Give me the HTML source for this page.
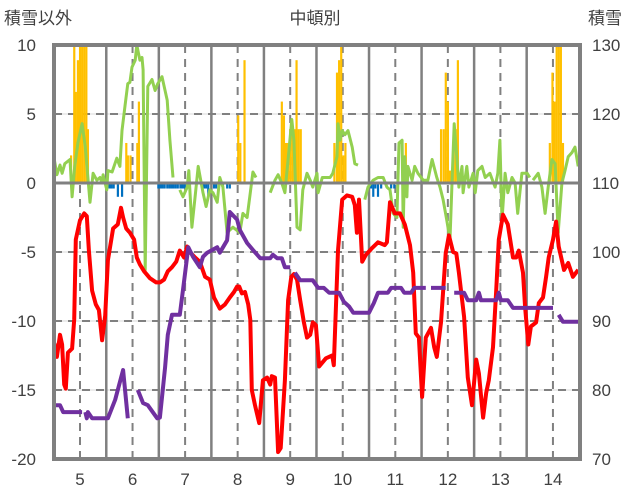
<!DOCTYPE html>
<html><head><meta charset="utf-8">
<style>
html,body{margin:0;padding:0;background:#fff;}
svg{display:block;font-family:"Liberation Sans","Noto Sans CJK JP",sans-serif;}
</style></head>
<body>
<svg id="chart" width="636" height="501" viewBox="0 0 636 501" xmlns="http://www.w3.org/2000/svg">
<text x="315" y="24" font-size="17" fill="#404040" text-anchor="middle">中頓別</text>
<text x="4" y="24" font-size="17" fill="#404040">積雪以外</text>
<text x="588" y="24" font-size="17" fill="#404040">積雪</text>
<g id="grid"></g>
<g id="bars"></g>
<g id="lines"></g>
<g id="axes"></g>
</svg>
<script>
const xTicks = [5,6,7,8,9,10,11,12,13,14];
const leftTicks = [10,5,0,-5,-10,-15,-20];
const rightTicks = [130,120,110,100,90,80,70];

const orangeDays = [4.81,4.87,4.90,4.94,4.98,5.02,5.06,5.10,5.13,5.86,5.89,5.94,6.07,6.10,7.99,8.03,8.11,8.82,8.86,8.90,8.94,8.98,9.02,9.06,9.10,9.14,9.18,9.82,9.87,9.91,9.95,9.99,10.03,11.18,11.85,11.90,11.94,11.98,12.02,12.06,12.09,12.13,12.17,13.92,13.97,14.01,14.05,14.09,14.13,14.17];
const orangeVals = [2.0,10,6.6,8.9,10,10,10,10,3.9,2.9,2.0,2.0,2.9,5.9,4.9,2.9,8.9,5.9,4.9,2.9,2.9,3.9,3.9,3.9,8.9,3.9,3.9,2.9,8.0,8.9,10,2.0,2.9,2.9,3.9,3.9,8.0,5.9,0.9,0.9,3.9,3.9,8.9,2.9,8.0,5.9,10,10,10,2.9];
const blueDays = [5.54,5.58,5.62,5.70,5.78,6.47,6.51,6.55,6.59,6.64,6.68,6.72,6.76,6.80,6.84,6.89,6.93,6.97,7.01,7.34,7.38,7.42,7.53,7.57,7.70,7.78,7.83,10.52,10.56,10.60,10.65,10.71,10.90,10.96];
const blueVals = [-0.4,-0.4,-0.4,-1.0,-1.0,-0.4,-0.4,-0.4,-0.4,-0.4,-0.4,-0.4,-0.4,-0.4,-0.4,-0.4,-0.4,-0.4,-0.4,-0.4,-0.4,-1.0,-0.4,-0.4,-0.4,-0.4,-0.4,-0.4,-1.0,-0.4,-1.0,-0.4,-0.4,-0.4];

const greenDays = [4.51,4.56,4.62,4.66,4.71,4.81,4.85,4.90,4.96,5.04,5.10,5.19,5.25,5.32,5.38,5.42,5.44,5.51,5.53,5.61,5.70,5.76,5.80,5.86,5.91,5.95,5.99,6.05,6.08,6.14,6.18,6.20,6.24,6.29,6.37,6.43,6.48,6.56,6.66,6.71,6.77,6.80,
6.90,6.96,7.04,7.07,7.13,7.19,7.25,7.34,7.40,7.47,7.53,7.61,7.66,7.72,7.80,7.91,8.04,8.10,8.18,8.24,8.29,8.35,8.40,
8.62,8.71,8.77,8.84,8.90,8.96,9.03,9.07,9.13,9.19,9.24,9.32,9.38,9.43,9.51,9.53,9.61,9.70,9.76,9.81,9.89,9.91,9.95,9.99,10.04,10.10,10.18,10.23,10.29,10.33,
10.42,10.48,10.58,10.67,10.77,10.84,10.90,10.96,11.03,11.07,11.13,11.15,11.18,11.22,11.24,11.32,11.37,11.43,11.53,11.62,11.70,11.79,11.85,11.91,11.98,12.04,12.08,12.12,12.17,12.21,12.27,12.29,12.36,12.40,12.48,12.52,12.57,12.65,12.71,12.80,12.90,12.95,12.99,13.03,13.09,13.14,13.22,13.28,13.33,13.41,13.51,13.56,13.59,
13.62,13.72,13.79,13.85,13.91,13.98,14.04,14.10,14.17,14.23,14.29,14.36,14.42,14.48];
const greenVals = [1.7,0.6,1.3,0.7,1.4,1.7,-1.0,1.2,2.9,4.3,2.6,-1.4,0.7,0.2,0.4,0,0.6,-0.5,0.9,0.8,1.8,1.2,3.8,5.7,7.2,7.3,8.4,8.9,10.0,8.9,9.1,8.2,-6.3,7.0,7.5,6.7,7.2,7.7,6.0,3.1,0.4,null,
-0.5,-1.0,-0.3,0.9,-3.2,-1.0,1.2,-0.7,-1.7,-0.5,-0.7,-1.4,0.4,-0.3,-3.6,-3.2,-3.6,-2.2,-2.5,-0.7,0.8,0.4,null,
-0.7,0.2,0.6,0,-0.7,1.7,4.6,3.1,-3.2,-3.4,-0.5,0.7,0.2,-0.3,0.7,-0.7,0.4,0.4,0.4,0.7,1.9,4.3,3.1,3.8,3.5,3.8,2.6,1.4,1.3,null,
-1.2,-0.3,0.2,0.4,0.4,-0.3,-0.5,-2.2,-2.5,2.9,3.1,-3.2,1.9,-1.0,1.2,0.2,1.2,0.7,0.2,0.2,1.7,0.4,-0.3,-1.2,-2.7,-4.1,0.2,4.3,1.9,-0.3,1.2,-0.7,1.2,-0.3,0.7,-0.7,0.9,1.2,0.4,0.7,-0.3,0.7,3.1,-2.7,0.7,-0.7,0.4,0,-2.2,0.7,0.7,0.4,null,
0.2,0.7,-0.3,-2.2,-0.3,1.7,1.4,-3.6,0,0.9,1.9,2.2,2.6,1.2];

const redDays = [4.51,4.56,4.62,4.66,4.70,4.73,4.77,4.85,4.89,4.92,5.00,5.08,5.13,5.17,5.23,5.30,5.36,5.42,5.48,5.53,5.63,5.72,5.78,5.82,5.88,5.95,6.03,6.08,6.14,6.22,6.33,6.45,6.52,6.60,6.67,6.75,6.83,6.90,6.98,7.04,7.09,7.19,7.28,7.38,7.47,7.55,7.66,7.76,7.85,7.93,7.99,8.03,8.08,8.14,8.20,8.24,8.27,8.33,8.41,8.48,8.56,8.62,8.65,8.71,8.77,8.82,8.90,8.96,9.02,9.07,9.13,9.19,9.26,9.32,9.38,9.43,9.49,9.55,9.68,9.80,9.83,9.91,9.99,10.08,10.18,10.23,10.27,10.31,10.37,10.44,10.56,10.67,10.80,10.84,10.90,10.99,11.09,11.18,11.28,11.34,11.39,11.45,11.51,11.58,11.68,11.74,11.79,11.87,11.96,12.02,12.10,12.16,12.21,12.31,12.38,12.46,12.54,12.59,12.67,12.73,12.78,12.86,12.92,12.97,13.05,13.14,13.24,13.30,13.35,13.43,13.47,13.53,13.58,13.68,13.73,13.81,13.87,13.92,14.00,14.06,14.11,14.21,14.29,14.38,14.48];
const redVals = [-11.6,-12.6,-11.0,-11.7,-14.6,-14.9,-12.3,-12.0,-9.9,-4.1,-2.7,-2.2,-2.4,-4.9,-7.8,-8.8,-9.2,-11.4,-9.6,-5.6,-3.3,-3.0,-1.8,-2.5,-3.3,-3.6,-4.1,-5.4,-5.9,-6.4,-6.9,-7.2,-7.2,-7.0,-6.4,-6.1,-5.7,-4.9,-5.4,-4.6,-5.0,-5.4,-5.7,-6.8,-7.0,-8.3,-9.1,-8.8,-8.3,-7.9,-7.5,-7.5,-8.0,-7.9,-8.8,-9.9,-15.0,-16.1,-17.4,-14.3,-14.1,-14.6,-14.0,-14.1,-19.5,-19.2,-14.3,-8.5,-6.8,-6.6,-7.0,-8.5,-10.1,-11.2,-11.0,-10.1,-10.3,-13.3,-12.7,-12.5,-13.2,-4.9,-1.2,-0.9,-1.0,-1.6,-3.6,-1.2,-5.7,-5.2,-4.7,-4.3,-4.5,-4.3,-1.4,-2.2,-2.2,-3.0,-4.5,-6.5,-10.9,-11.2,-15.5,-11.2,-10.5,-11.9,-12.6,-10.1,-5.1,-3.8,-5.0,-5.1,-6.5,-9.7,-14.1,-16.1,-12.8,-13.8,-17.0,-15.2,-14.3,-11.9,-7.8,-4.1,-2.3,-3.0,-5.4,-5.4,-4.9,-6.5,-9.0,-11.7,-10.4,-10.1,-8.7,-8.3,-6.8,-5.4,-4.1,-2.8,-4.6,-6.3,-5.8,-6.8,-6.3];

const purpleDays = [4.51,4.62,4.68,5.04,5.07,5.10,5.13,5.15,5.23,5.53,5.67,5.82,5.91,5.96,6.10,6.20,6.29,6.47,6.52,6.62,6.67,6.75,6.90,6.96,7.06,7.15,7.28,7.34,7.42,7.61,7.66,7.80,7.85,7.99,8.04,8.18,8.29,8.43,8.62,8.67,8.75,8.84,8.90,9.00,9.04,9.09,9.19,9.43,9.53,9.64,9.74,9.93,10.02,10.12,10.20,10.50,10.59,10.67,10.86,10.92,11.11,11.17,11.30,11.36,11.58,11.63,11.68,11.96,12.04,12.12,12.31,12.38,12.54,12.59,12.63,12.92,12.97,13.01,13.14,13.24,14.00,14.05,14.11,14.19,14.48];
const purpleVals = [77.8,77.8,76.8,76.8,null,76.8,75.9,76.8,75.9,75.9,78.6,82.9,75.9,null,80.0,78.1,77.8,75.9,76.0,83.3,88.0,90.9,90.9,94.5,100.7,99.3,97.8,99.3,99.9,100.7,99.9,101.7,105.8,104.7,103.2,101.3,100.3,99.1,99.1,99.6,99.1,99.1,97.8,97.8,null,97.0,95.9,95.9,94.8,94.8,94.1,94.1,92.8,92.1,91.2,91.2,92.6,94.1,94.1,94.8,94.8,94.1,94.1,94.8,94.8,null,94.8,94.8,null,94.1,94.1,93.0,93.0,94.1,93.0,93.0,94.1,93.0,93.0,91.9,91.9,null,90.9,89.9,89.9];

const NS = 'http://www.w3.org/2000/svg';
const PL = 54, PR = 580, PT = 45, PB = 459;
function xS(d){ return 80 + (d - 5) * 52.55; }
function yL(v){ return 183 - v * 13.8; }
function yR(v){ return 183 - (v - 110) * 6.9; }
function mk(tag, attrs, parent){
  const e = document.createElementNS(NS, tag);
  for (const k in attrs) e.setAttribute(k, attrs[k]);
  parent.appendChild(e);
  return e;
}
const grid = document.getElementById('grid');
const bars = document.getElementById('bars');
const lines = document.getElementById('lines');
const axes = document.getElementById('axes');

// horizontal grid
leftTicks.forEach(v => {
  if (v === 10 || v === -20 || v === 0) return;
  const y = yL(v);
  const g1 = mk('line', {x1:PL, x2:PR, y1:y, y2:y, stroke:'#d9d9d9', 'stroke-width':1}, grid);
  
  
  const g2 = mk('line', {x1:PL, x2:PR, y1:y, y2:y, stroke:'#808080', 'stroke-width':2, 'stroke-dasharray':'8,6'}, grid);
  
  
});
// vertical grid
xTicks.forEach(d => {
  const x = xS(d);
  const g = mk('line', {x1:x, x2:x, y1:PT, y2:PB, stroke:'#808080', 'stroke-width':2, 'stroke-dasharray':'8,6'}, grid);
  
  
  if (d < 14) {
    const xs = xS(d + 0.5);
    const s = mk('line', {x1:xs, x2:xs, y1:PT, y2:PB, stroke:'#808080', 'stroke-width':2.5}, grid);
    
    
  }
  const t = mk('text', {x:x, y:485, 'font-size':17, fill:'#404040', 'text-anchor':'middle'}, axes);
  t.textContent = d;
  
  
});
// bars
const bw = 52.55 / 24;
orangeDays.forEach((d, i) => {
  const v = orangeVals[i];
  const r = mk('rect', {x:xS(d), y:yL(v), width:bw, height:yL(0) - yL(v), fill:'#FFC000'}, bars);
  
  
});
blueDays.forEach((d, i) => {
  const v = blueVals[i];
  const r = mk('rect', {x:xS(d), y:yL(0), width:bw, height:yL(v) - yL(0), fill:'#0070C0'}, bars);
  
  
});
// zero line
const z = mk('line', {x1:PL, x2:PR, y1:yL(0), y2:yL(0), stroke:'#808080', 'stroke-width':3}, axes);



function pathFrom(days, vals, ys){
  let d = '', pen = false;
  days.forEach((t, i) => {
    const v = vals[i];
    if (v === null || v === undefined) { pen = false; return; }
    d += (pen ? 'L' : 'M') + xS(t).toFixed(1) + ',' + ys(v).toFixed(1);
    pen = true;
  });
  return d;
}
const gp = mk('path', {d:pathFrom(greenDays, greenVals, yL), fill:'none', stroke:'#92D050', 'stroke-width':3, 'stroke-linejoin':'round'}, lines);


const rp = mk('path', {d:pathFrom(redDays, redVals, yL), fill:'none', stroke:'#FF0000', 'stroke-width':4, 'stroke-linejoin':'round'}, lines);


const pp = mk('path', {d:pathFrom(purpleDays, purpleVals, yR), fill:'none', stroke:'#7030A0', 'stroke-width':4, 'stroke-linejoin':'round'}, lines);



// border
const b = mk('rect', {x:PL, y:PT, width:PR - PL, height:PB - PT, fill:'none', stroke:'#808080', 'stroke-width':4}, axes);



leftTicks.forEach(v => {
  const t = mk('text', {x:36, y:yL(v) + 6, 'font-size':17, fill:'#404040', 'text-anchor':'end'}, axes);
  t.textContent = v;
  
  
});
rightTicks.forEach(v => {
  const t = mk('text', {x:592, y:yR(v) + 6, 'font-size':17, fill:'#404040'}, axes);
  t.textContent = v;
  
  
});
</script>
</body></html>
